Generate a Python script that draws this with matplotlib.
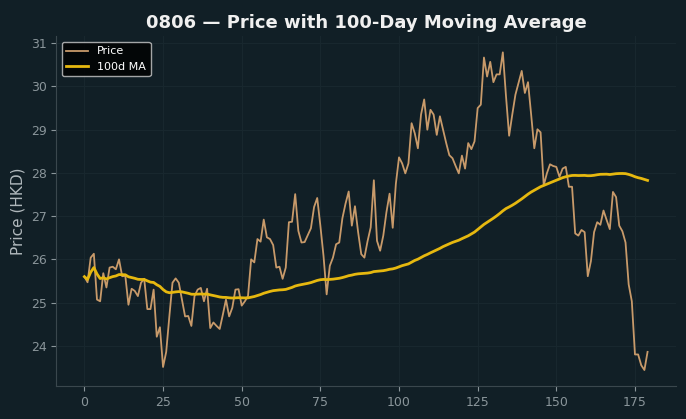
import numpy as np
import pandas as pd
import matplotlib
matplotlib.use("Agg")
import matplotlib.pyplot as plt

# closing prices (day index 0..179)
price = [
    25.60, 25.47, 26.04, 26.13, 25.07, 25.03, 25.68, 25.35, 25.81, 25.83,
    25.77, 26.00, 25.61, 25.62, 24.95, 25.32, 25.27, 25.15, 25.46, 25.55,
    24.85, 24.85, 25.30, 24.21, 24.43, 23.51, 23.86, 24.68, 25.46, 25.56,
    25.46, 25.07, 24.68, 24.69, 24.46, 25.15, 25.30, 25.34, 25.03, 25.32,
    24.41, 24.54, 24.46, 24.39, 24.72, 25.07, 24.68, 24.88, 25.30, 25.31,
    24.93, 25.03, 25.15, 26.00, 25.93, 26.47, 26.41, 26.92, 26.51, 26.47,
    26.33, 25.81, 25.83, 25.55, 25.81, 26.86, 26.87, 27.51, 26.66, 26.39,
    26.40, 26.56, 26.72, 27.21, 27.42, 26.78, 26.08, 25.19, 25.85, 26.04,
    26.35, 26.39, 26.95, 27.29, 27.57, 26.78, 27.23, 26.63, 26.12, 26.04,
    26.42, 26.74, 27.83, 26.43, 26.20, 26.55, 27.09, 27.52, 26.73, 27.75,
    28.36, 28.22, 27.99, 28.22, 29.15, 28.92, 28.57, 29.35, 29.70, 29.00,
    29.46, 29.35, 28.88, 29.31, 29.00, 28.69, 28.41, 28.34, 28.16, 27.99,
    28.40, 28.10, 28.69, 28.55, 28.73, 29.50, 29.58, 30.67, 30.23, 30.57,
    30.10, 30.28, 30.28, 30.79, 29.78, 28.86, 29.35, 29.81, 30.09, 30.36,
    29.85, 30.10, 29.35, 28.57, 29.01, 28.94, 27.71, 27.99, 28.20, 28.16,
    28.14, 27.91, 28.10, 28.14, 27.68, 27.68, 26.60, 26.55, 26.68, 26.63,
    25.61, 25.96, 26.63, 26.86, 26.80, 27.13, 26.91, 26.70, 27.56, 27.44,
    26.78, 26.65, 26.39, 25.42, 25.03, 23.80, 23.80, 23.55, 23.44, 23.86,
]
days = np.arange(len(price))
ma100 = pd.Series(price).rolling(100, min_periods=1).mean()

bg = "#111f26"
fig, ax = plt.subplots(figsize=(6.86, 4.19), dpi=100)
fig.patch.set_facecolor(bg)
ax.set_facecolor(bg)

ax.plot(days, price, color="#c89a6a", lw=1.3, label="Price")
ax.plot(days, ma100, color="#e6b80f", lw=2, label="100d MA")

ax.set_title("0806 \u2014 Price with 100-Day Moving Average", color="#f0f0f0",
             fontsize=13, fontweight="bold")
ax.set_ylabel("Price (HKD)", color="#b0b8bc", fontsize=11)
ax.tick_params(colors="#8a959a", labelsize=9)
ax.grid(True, color="#18272e", lw=0.8)
for s in ["top", "right"]:
    ax.spines[s].set_visible(False)
for s in ["left", "bottom"]:
    ax.spines[s].set_color("#3a474d")

leg = ax.legend(loc="upper left", fontsize=8, facecolor="black",
                edgecolor="#cccccc", labelcolor="white")

fig.subplots_adjust(left=0.082, right=0.985, top=0.913, bottom=0.079)
fig.savefig("out.png", facecolor=bg)
